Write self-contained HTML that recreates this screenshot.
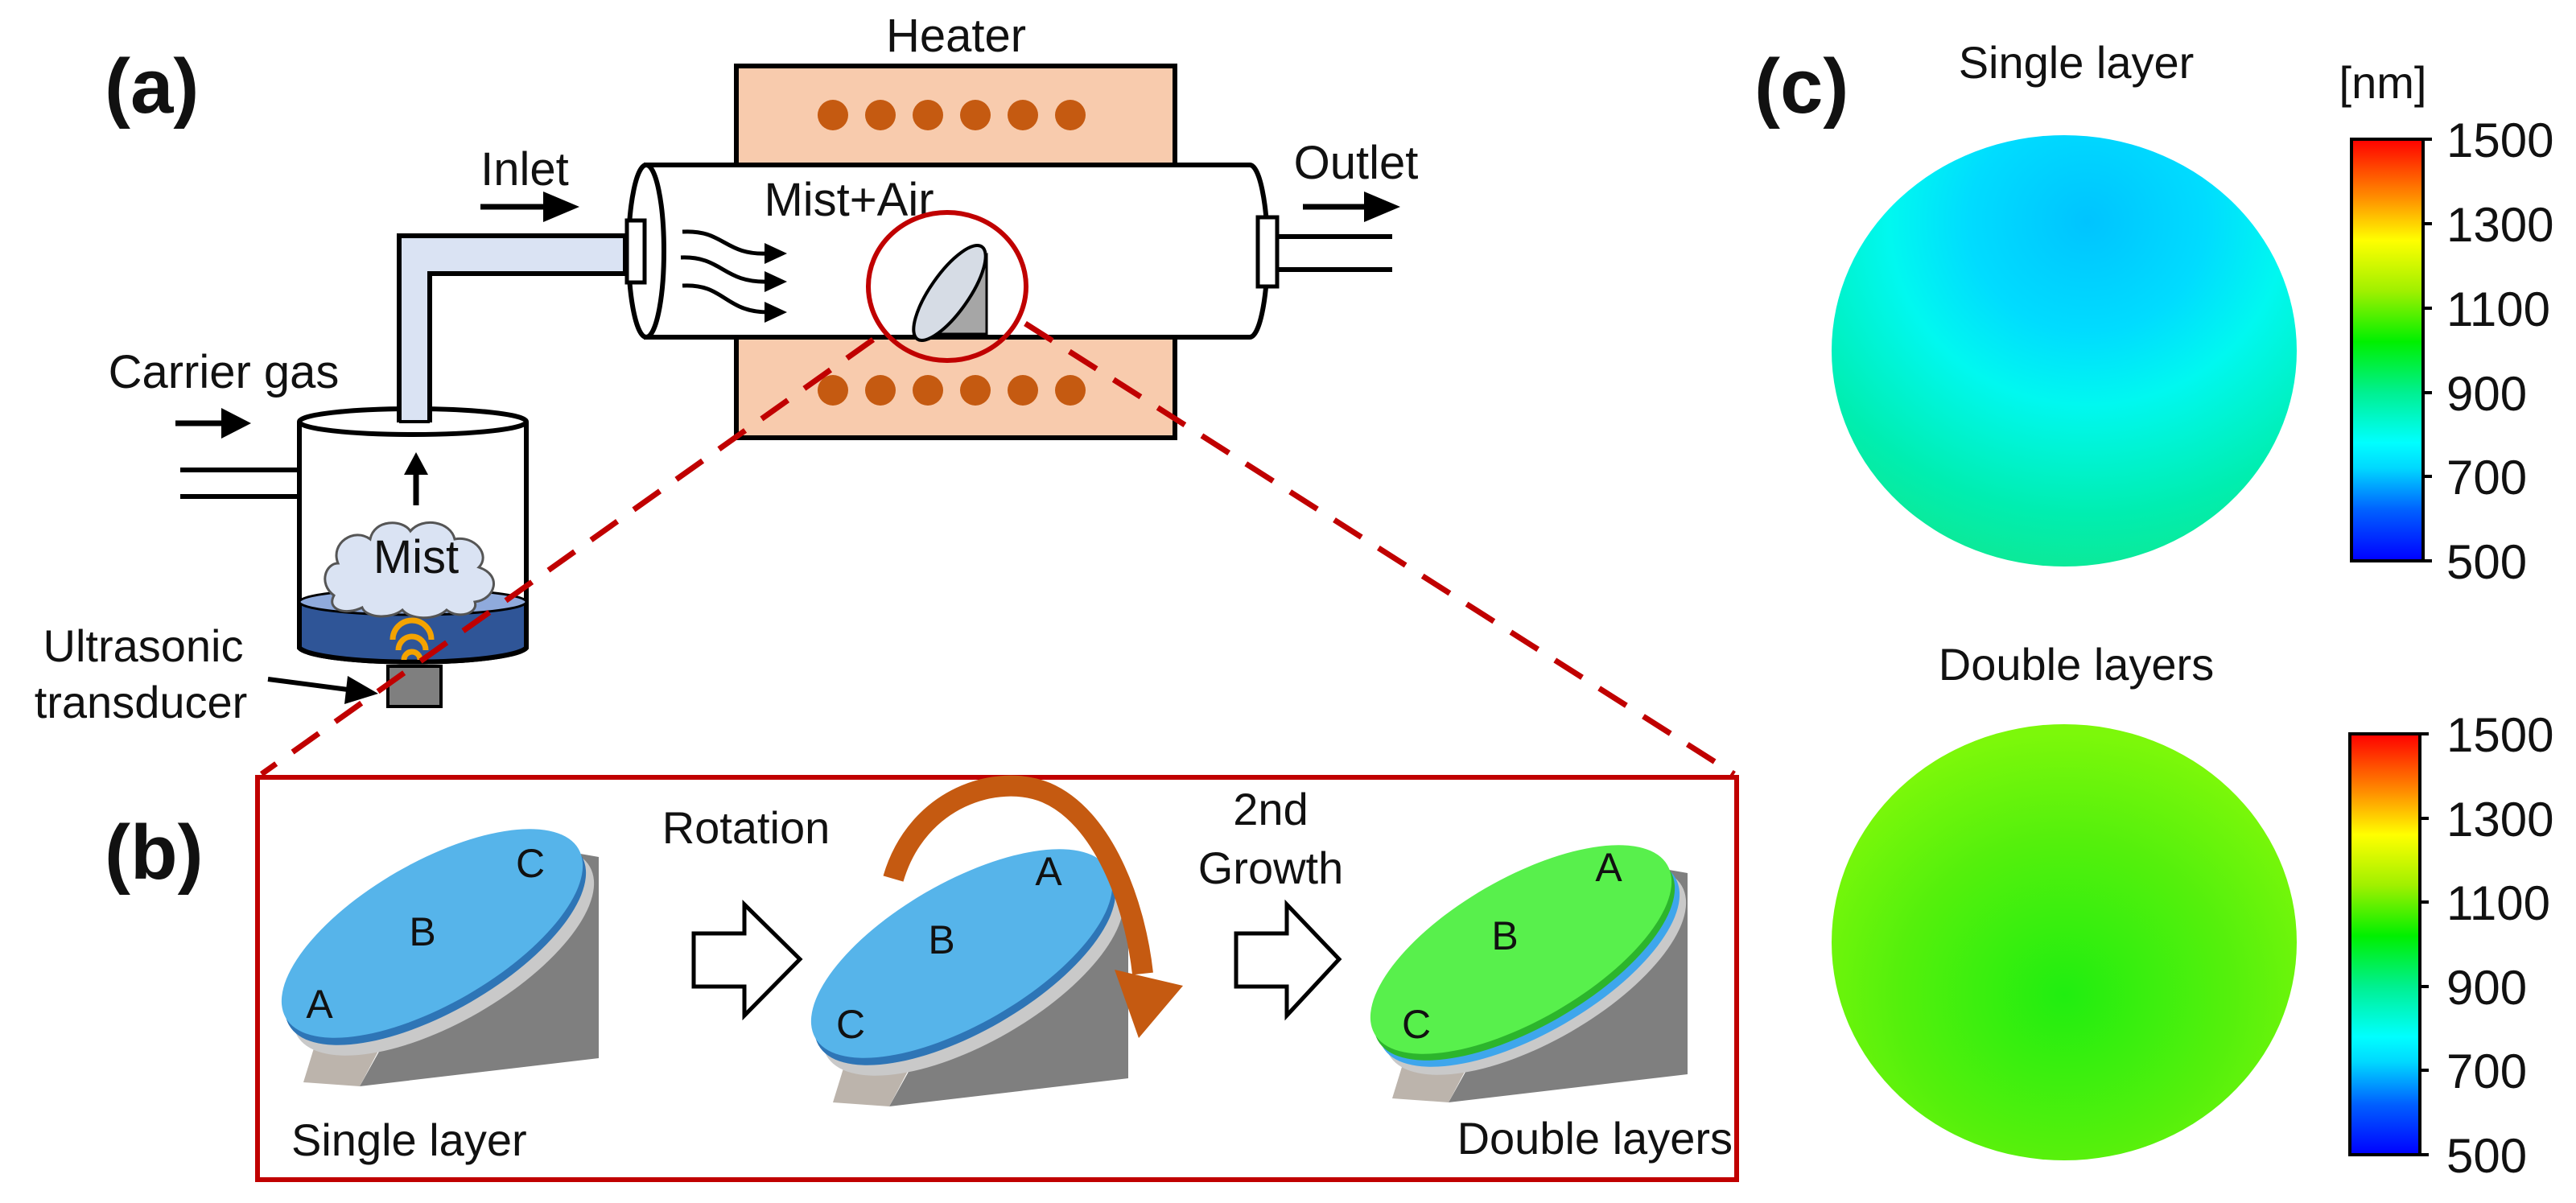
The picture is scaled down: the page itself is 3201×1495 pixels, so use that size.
<!DOCTYPE html>
<html><head><meta charset="utf-8"><style>
html,body{margin:0;padding:0;background:#fff}
svg{display:block}
text{font-family:"Liberation Sans",Arial,sans-serif;fill:#111}
</style></head><body>
<svg width="3201" height="1495" viewBox="0 0 3201 1495" xmlns="http://www.w3.org/2000/svg">
<defs>
<marker id="ah" markerWidth="6" markerHeight="6" refX="3" refY="3" orient="auto" markerUnits="strokeWidth"><path d="M0,0 L6,3 L0,6 z" fill="#000"/></marker>
<linearGradient id="jet" x1="0" y1="1" x2="0" y2="0">
<stop offset="0" stop-color="#0000ff"/><stop offset="0.12" stop-color="#0060ff"/>
<stop offset="0.22" stop-color="#00d8ff"/><stop offset="0.28" stop-color="#00ffff"/>
<stop offset="0.4" stop-color="#00f090"/><stop offset="0.52" stop-color="#00f000"/>
<stop offset="0.64" stop-color="#a0f000"/><stop offset="0.76" stop-color="#ffff00"/>
<stop offset="0.86" stop-color="#ff9000"/><stop offset="1" stop-color="#ff0000"/>
</linearGradient>
<radialGradient id="c1" cx="0.55" cy="0.2" r="0.85">
<stop offset="0" stop-color="#00c4ff"/><stop offset="0.3" stop-color="#00dcff"/>
<stop offset="0.5" stop-color="#00f8f0"/><stop offset="0.8" stop-color="#00eeb0"/><stop offset="1" stop-color="#10e890"/>
</radialGradient>
<radialGradient id="c2" cx="0.5" cy="0.62" r="0.6">
<stop offset="0" stop-color="#20ee10"/><stop offset="0.6" stop-color="#55f00c"/><stop offset="1" stop-color="#7cf80a"/>
</radialGradient>
</defs>

<!-- labels -->
<text x="130" y="140" font-size="96" font-weight="bold">(a)</text>
<text x="130" y="1092" font-size="96" font-weight="bold">(b)</text>
<text x="2180" y="140" font-size="96" font-weight="bold">(c)</text>

<!-- heater -->
<rect x="915" y="82" width="545" height="462" fill="#f8cbad" stroke="#000" stroke-width="6"/>
<g fill="#c55a11">
<circle cx="1035" cy="143" r="19"/><circle cx="1094" cy="143" r="19"/><circle cx="1153" cy="143" r="19"/><circle cx="1212" cy="143" r="19"/><circle cx="1271" cy="143" r="19"/><circle cx="1330" cy="143" r="19"/>
<circle cx="1035" cy="485" r="19"/><circle cx="1094" cy="485" r="19"/><circle cx="1153" cy="485" r="19"/><circle cx="1212" cy="485" r="19"/><circle cx="1271" cy="485" r="19"/><circle cx="1330" cy="485" r="19"/>
</g>
<text x="1188" y="64" font-size="58" text-anchor="middle">Heater</text>

<!-- tube -->
<path d="M803,205 L1553,205 A22,107 0 0 1 1553,419 L803,419 Z" fill="#fff" stroke="#000" stroke-width="6"/>
<ellipse cx="803" cy="312" rx="22" ry="107" fill="#fff" stroke="#000" stroke-width="6"/>
<rect x="779" y="274" width="22" height="77" fill="#fff" stroke="#000" stroke-width="5"/>
<rect x="1563" y="270" width="24" height="86" fill="#fff" stroke="#000" stroke-width="5"/>
<line x1="1587" y1="294" x2="1730" y2="294" stroke="#000" stroke-width="6"/>
<line x1="1587" y1="335" x2="1730" y2="335" stroke="#000" stroke-width="6"/>
<text x="1685" y="222" font-size="58" text-anchor="middle">Outlet</text>
<line x1="1619" y1="257" x2="1700" y2="257" stroke="#000" stroke-width="7"/><path d="M1695,238 L1740,257 L1695,276 Z"/>
<text x="652" y="230" font-size="58" text-anchor="middle">Inlet</text>
<line x1="597" y1="257" x2="680" y2="257" stroke="#000" stroke-width="7"/><path d="M675,238 L720,257 L675,276 Z"/>
<text x="1055" y="268" font-size="58" text-anchor="middle">Mist+Air</text>
<!-- wavy arrows -->
<g fill="none" stroke="#000" stroke-width="5">
<path d="M848,288 C900,285 900,318 955,315"/><path d="M846,320 C898,318 898,352 955,350"/><path d="M848,355 C900,352 900,388 955,388"/>
</g>
<path d="M950,302 L978,315 L950,328 Z"/><path d="M950,337 L978,350 L950,363 Z"/><path d="M950,375 L978,388 L950,401 Z"/>
<!-- substrate in tube -->
<polygon points="1145,415 1226,318 1226,415" fill="#a6a6a6" stroke="#000" stroke-width="3"/>
<ellipse cx="1180" cy="364" rx="70" ry="24" transform="rotate(-55 1180 364)" fill="#d6dce5" stroke="#000" stroke-width="4"/>
<ellipse cx="1177" cy="356" rx="98" ry="92" fill="none" stroke="#c00000" stroke-width="6"/>

<!-- pipe -->
<path d="M496,525 L496,293 L777,293 L777,340 L534,340 L534,525 Z" fill="#dae3f3" stroke="#000" stroke-width="6"/>

<!-- bottle -->
<text x="278" y="482" font-size="58" text-anchor="middle">Carrier gas</text>
<line x1="218" y1="526" x2="280" y2="526" stroke="#000" stroke-width="7"/><path d="M275,507 L312,526 L275,545 Z"/>
<line x1="224" y1="584" x2="372" y2="584" stroke="#000" stroke-width="6"/>
<line x1="224" y1="617" x2="372" y2="617" stroke="#000" stroke-width="6"/>
<path d="M372,524 L372,805 A142,20 0 0 0 654,805 L654,524" fill="#fff" stroke="#000" stroke-width="6"/>
<path d="M372,748 L372,805 A142,20 0 0 0 654,805 L654,748 Z" fill="#2f5597" stroke="#000" stroke-width="6"/>
<ellipse cx="513" cy="748" rx="141" ry="16" fill="#8faadc" stroke="#000" stroke-width="3"/>
<ellipse cx="513" cy="524" rx="141" ry="16" fill="#fff" stroke="#000" stroke-width="6"/>
<rect x="496" y="500" width="38" height="25" fill="#dae3f3"/>
<line x1="496" y1="500" x2="496" y2="525" stroke="#000" stroke-width="6"/><line x1="534" y1="500" x2="534" y2="525" stroke="#000" stroke-width="6"/>
<line x1="496" y1="524" x2="534" y2="524" stroke="#000" stroke-width="4"/>
<line x1="517" y1="628" x2="517" y2="585" stroke="#000" stroke-width="7"/><path d="M502,590 L517,562 L532,590 Z"/>
<path d="M415,740 C395,725 405,700 420,700 C410,675 440,655 460,670 C465,645 500,645 510,660 C525,642 560,648 565,670 C590,665 610,690 595,705 C625,715 615,745 590,748 C595,762 570,770 555,758 C540,772 510,770 500,758 C485,770 455,768 450,755 C430,765 405,758 415,740 Z" fill="#dae3f3" stroke="#555" stroke-width="3"/>
<text x="517" y="712" font-size="58" text-anchor="middle">Mist</text>
<g fill="none" stroke="#f4a300" stroke-width="7">
<path d="M488,795 A24,24 0 0 1 536,795"/><path d="M495,808 A17,17 0 0 1 529,808"/><path d="M502,820 A10,10 0 0 1 522,820"/>
</g>
<rect x="482" y="828" width="66" height="50" fill="#7f7f7f" stroke="#000" stroke-width="4"/>
<text x="178" y="822" font-size="56" text-anchor="middle">Ultrasonic</text>
<text x="175" y="892" font-size="56" text-anchor="middle">transducer</text>
<line x1="333" y1="844" x2="440" y2="858" stroke="#000" stroke-width="6"/><path d="M432,840 L470,862 L428,875 Z"/>

<!-- dashed red -->
<line x1="1085" y1="422" x2="325" y2="962" stroke="#c00000" stroke-width="7" stroke-dasharray="40,25"/>
<line x1="1274" y1="402" x2="2155" y2="962" stroke="#c00000" stroke-width="7" stroke-dasharray="40,25"/>

<!-- box b -->
<rect x="320" y="966" width="1838" height="500" fill="none" stroke="#c00000" stroke-width="6"/>

<!-- dish template -->
<g transform="translate(537,1160)">
<polygon points="150,-105 207,-95 207,155 -90,190 -40,100" fill="#7f7f7f"/>
<polygon points="-160,185 -90,190 -40,95 -140,120" fill="#bcb4ac"/>
<ellipse cx="14" cy="22" rx="210" ry="88" transform="rotate(-30 14 22)" fill="#c9c9c9"/>
<ellipse cx="4" cy="9" rx="210" ry="88" transform="rotate(-30 4 9)" fill="#2e75b6"/>
<ellipse cx="0" cy="0" rx="210" ry="88" transform="rotate(-30)" fill="#56b4ea"/>
</g>
<g transform="translate(1195,1185)">
<polygon points="150,-105 207,-95 207,155 -90,190 -40,100" fill="#7f7f7f"/>
<polygon points="-160,185 -90,190 -40,95 -140,120" fill="#bcb4ac"/>
<ellipse cx="14" cy="22" rx="210" ry="88" transform="rotate(-30 14 22)" fill="#c9c9c9"/>
<ellipse cx="4" cy="9" rx="210" ry="88" transform="rotate(-30 4 9)" fill="#2e75b6"/>
<ellipse cx="0" cy="0" rx="210" ry="88" transform="rotate(-30)" fill="#56b4ea"/>
</g>
<g transform="translate(1890,1180)">
<polygon points="150,-105 207,-95 207,155 -90,190 -40,100" fill="#7f7f7f"/>
<polygon points="-160,185 -90,190 -40,95 -140,120" fill="#bcb4ac"/>
<ellipse cx="18" cy="26" rx="210" ry="88" transform="rotate(-30 18 26)" fill="#c9c9c9"/>
<ellipse cx="10" cy="16" rx="210" ry="88" transform="rotate(-30 10 16)" fill="#3ea6ec"/>
<ellipse cx="4" cy="8" rx="210" ry="88" transform="rotate(-30 4 8)" fill="#2cb52c"/>
<ellipse cx="0" cy="0" rx="210" ry="88" transform="rotate(-30)" fill="#58f04c"/>
</g>
<g font-size="50">
<text x="397" y="1265" text-anchor="middle">A</text><text x="525" y="1175" text-anchor="middle">B</text><text x="659" y="1090" text-anchor="middle">C</text>
<text x="1057" y="1290" text-anchor="middle">C</text><text x="1170" y="1185" text-anchor="middle">B</text><text x="1303" y="1100" text-anchor="middle">A</text>
<text x="1760" y="1290" text-anchor="middle">C</text><text x="1870" y="1180" text-anchor="middle">B</text><text x="1999" y="1095" text-anchor="middle">A</text>
</g>
<!-- orange arrow -->
<path d="M1110,1092 C1140,990 1240,960 1300,985 C1370,1015 1410,1120 1420,1210" fill="none" stroke="#c55a11" stroke-width="26"/>
<path d="M1385,1205 L1470,1225 L1415,1290 Z" fill="#c55a11"/>
<!-- hollow arrows -->
<path d="M862,1160 L925,1160 L925,1124 L994,1192 L925,1262 L925,1226 L862,1226 Z" fill="#fff" stroke="#000" stroke-width="5"/>
<path d="M1536,1160 L1599,1160 L1599,1124 L1664,1192 L1599,1262 L1599,1226 L1536,1226 Z" fill="#fff" stroke="#000" stroke-width="5"/>
<text x="927" y="1048" font-size="56" text-anchor="middle">Rotation</text>
<text x="1579" y="1025" font-size="56" text-anchor="middle">2nd</text>
<text x="1579" y="1098" font-size="56" text-anchor="middle">Growth</text>
<text x="362" y="1436" font-size="56">Single layer</text>
<text x="2153" y="1434" font-size="56" text-anchor="end">Double layers</text>

<!-- (c) -->
<text x="2580" y="97" font-size="56" text-anchor="middle">Single layer</text>
<text x="2580" y="845" font-size="56" text-anchor="middle">Double layers</text>
<ellipse cx="2565" cy="436" rx="289" ry="268" fill="url(#c1)"/>
<ellipse cx="2565" cy="1171" rx="289" ry="271" fill="url(#c2)"/>
<text x="2961" y="122" font-size="56" text-anchor="middle">[nm]</text>
<rect x="2922" y="173" width="89" height="524" fill="url(#jet)" stroke="#000" stroke-width="4"/>
<rect x="2920" y="912" width="87" height="523" fill="url(#jet)" stroke="#000" stroke-width="4"/>
<g stroke="#000" stroke-width="4">
<line x1="3011" y1="173" x2="3022" y2="173"/><line x1="3011" y1="278" x2="3022" y2="278"/><line x1="3011" y1="383" x2="3022" y2="383"/><line x1="3011" y1="488" x2="3022" y2="488"/><line x1="3011" y1="592" x2="3022" y2="592"/><line x1="3011" y1="697" x2="3022" y2="697"/>
<line x1="3007" y1="912" x2="3018" y2="912"/><line x1="3007" y1="1017" x2="3018" y2="1017"/><line x1="3007" y1="1121" x2="3018" y2="1121"/><line x1="3007" y1="1226" x2="3018" y2="1226"/><line x1="3007" y1="1330" x2="3018" y2="1330"/><line x1="3007" y1="1435" x2="3018" y2="1435"/>
</g>
<g font-size="60">
<text x="3040" y="195">1500</text><text x="3040" y="300">1300</text><text x="3040" y="405">1100</text><text x="3040" y="510">900</text><text x="3040" y="614">700</text><text x="3040" y="719">500</text>
<text x="3040" y="934">1500</text><text x="3040" y="1039">1300</text><text x="3040" y="1143">1100</text><text x="3040" y="1248">900</text><text x="3040" y="1352">700</text><text x="3040" y="1457">500</text>
</g>
</svg>
</body></html>
